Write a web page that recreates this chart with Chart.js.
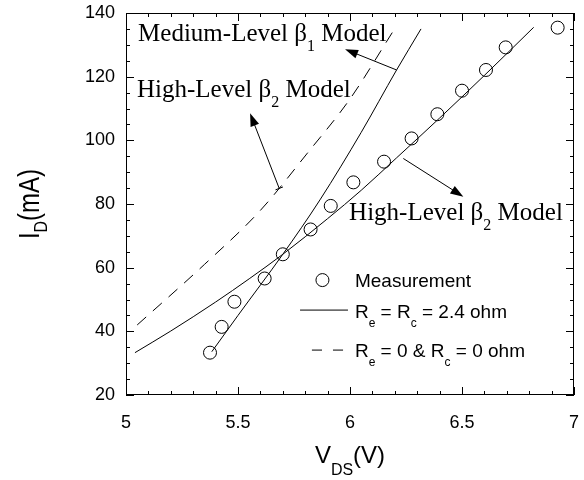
<!DOCTYPE html>
<html><head><meta charset="utf-8">
<style>html,body{margin:0;padding:0;background:#fff}#wrap{width:584px;height:480px;position:relative}</style>
<script src="https://cdn.jsdelivr.net/npm/chart.js@4.4.1/dist/chart.umd.min.js"></script>
</head><body><div id="wrap"><canvas id="c" width="584" height="480"></canvas></div>
<script>
// ---- data ----
const xTicks = [5, 5.5, 6, 6.5, 7];
const xTickLabels = ['5', '5.5', '6', '6.5', '7'];
const yTicks = [20, 40, 60, 80, 100, 120, 140];
const yTickLabels = ['20', '40', '60', '80', '100', '120', '140'];
const measVds = [5.375, 5.427, 5.484, 5.619, 5.70, 5.824, 5.914, 6.015, 6.152, 6.275, 6.39, 6.50, 6.607, 6.695, 6.927];
const measId  = [33.3, 41.4, 49.3, 56.6, 64.2, 72.0, 79.4, 86.8, 93.3, 100.6, 108.2, 115.6, 122.1, 129.2, 135.4];
const medVds  = [5.383, 5.5, 5.7, 5.866, 6.05, 6.208, 6.317];
const medId   = [33.6, 45.0, 64.2, 81.3, 102.5, 122.1, 135.0];
const highVds = [5.04, 5.2, 5.4, 5.55, 5.7, 5.9, 6.05, 6.208, 6.4, 6.6, 6.82];
const highId  = [33.3, 40.1, 49.2, 56.5, 64.2, 75.4, 84.3, 94.5, 107.0, 120.4, 135.5];
const zeroVds = [5.05, 5.35, 5.6, 5.81, 6.0, 6.19];
const zeroId  = [42.0, 61.0, 78.0, 96.0, 113.0, 134.0];

const SANS = '"Liberation Sans", Arial, sans-serif';
const SERIF = '"Liberation Serif", "Times New Roman", serif';

function pts(xs, ys){ return xs.map((x,i)=>({x:x, y:ys[i]})); }

function runs(ctx, parts, x, y, size, family, subSize, subDrop, draw){
  let cx = x;
  for (const p of parts){
    ctx.font = (p.sub ? subSize : size) + 'px ' + family;
    if (draw) ctx.fillText(p.t, cx, y + (p.sub ? subDrop : 0));
    cx += ctx.measureText(p.t).width;
  }
  return cx - x;
}

function arrow(ctx, x1, y1, x2, y2){
  const a = Math.atan2(y2-y1, x2-x1), L = 13, W = 4.5;
  ctx.beginPath(); ctx.moveTo(x1,y1); ctx.lineTo(x2 - L*0.8*Math.cos(a), y2 - L*0.8*Math.sin(a)); ctx.stroke();
  ctx.beginPath(); ctx.moveTo(x2,y2);
  ctx.lineTo(x2-L*Math.cos(a)+W*Math.sin(a), y2-L*Math.sin(a)-W*Math.cos(a));
  ctx.lineTo(x2-L*Math.cos(a)-W*Math.sin(a), y2-L*Math.sin(a)+W*Math.cos(a));
  ctx.closePath(); ctx.fill();
}

const decor = {
  id: 'decor',
  afterDraw(chart){
    const ctx = chart.ctx, ca = chart.chartArea, xs = chart.scales.x, ys = chart.scales.y;
    const X = v => xs.getPixelForValue(v), Y = v => ys.getPixelForValue(v);
    ctx.save();
    ctx.strokeStyle = '#000'; ctx.fillStyle = '#000'; ctx.lineWidth = 1;
    ctx.strokeRect(ca.left+0.5, ca.top+0.5, ca.right-ca.left-1, ca.bottom-ca.top-1);
    ctx.beginPath();
    for (let i=0;i<=20;i++){
      const p = Math.round(X(5 + i*0.1)) + 0.5, L = (i%5===0) ? 8 : 4;
      ctx.moveTo(p, ca.bottom); ctx.lineTo(p, ca.bottom-L);
      ctx.moveTo(p, ca.top); ctx.lineTo(p, ca.top+L);
    }
    for (let i=0;i<=24;i++){
      const p = Math.round(Y(20 + i*5)) + 0.5, L = (i%4===0) ? 8 : 4;
      ctx.moveTo(ca.left, p); ctx.lineTo(ca.left+L, p);
      ctx.moveTo(ca.right, p); ctx.lineTo(ca.right-L, p);
    }
    ctx.stroke();

    ctx.textBaseline = 'alphabetic'; ctx.textAlign = 'left';
    runs(ctx, [{t:'Medium-Level β'},{t:'1',sub:true},{t:' Model'}], X(5.054), Y(131.2), 25, SERIF, 16, 10, true);
    runs(ctx, [{t:'High-Level β'},{t:'2',sub:true},{t:' Model'}], X(5.049), Y(113.6), 25, SERIF, 16, 10, true);
    runs(ctx, [{t:'High-Level β'},{t:'2',sub:true},{t:' Model'}], X(5.996), Y(75.0), 25, SERIF, 16, 10, true);

    arrow(ctx, X(6.208), Y(122.1), X(5.978), Y(128.6));
    arrow(ctx, X(5.684), Y(84.9), X(5.554), Y(108.5));
    { const bx = X(5.684), by = Y(84.9), ex = X(5.554), ey = Y(108.5);
      const a = Math.atan2(ey-by, ex-bx), h = 4;
      ctx.beginPath(); ctx.moveTo(bx - h*Math.sin(a), by + h*Math.cos(a)); ctx.lineTo(bx + h*Math.sin(a), by - h*Math.cos(a)); ctx.stroke(); }
    arrow(ctx, X(6.238), Y(94.3), X(6.506), Y(82.3));

    const lx = X(5.877), ly1 = Y(56.1);
    ctx.beginPath(); ctx.arc(lx, ly1, 6.5, 0, Math.PI*2); ctx.stroke();
    const tx = X(6.022);
    runs(ctx, [{t:'Measurement'}], tx, ly1 + 7, 19, SANS, 12, 9, true);
    const ly2 = ly1 + 30;
    ctx.beginPath(); ctx.moveTo(X(5.777), ly2); ctx.lineTo(X(5.991), ly2); ctx.stroke();
    runs(ctx, [{t:'R'},{t:'e',sub:true},{t:' = R'},{t:'c',sub:true},{t:' = 2.4 ohm'}], tx, ly2 + 8, 19, SANS, 12, 9, true);
    const ly3 = ly1 + 70;
    ctx.beginPath();
    ctx.moveTo(X(5.830), ly3); ctx.lineTo(X(5.875), ly3);
    ctx.moveTo(X(5.924), ly3); ctx.lineTo(X(5.969), ly3);
    ctx.stroke();
    runs(ctx, [{t:'R'},{t:'e',sub:true},{t:' = 0 & R'},{t:'c',sub:true},{t:' = 0 ohm'}], tx, ly3 + 7, 19, SANS, 12, 9, true);

    const xParts = [{t:'V'},{t:'DS',sub:true},{t:'(V)'}];
    const xw = runs(ctx, xParts, 0, 0, 24, SANS, 16, 12, false);
    runs(ctx, xParts, (ca.left+ca.right)/2 - xw/2, 463, 24, SANS, 16, 12, true);

    const yParts = [{t:'I'},{t:'D',sub:true},{t:'(mA)'}];
    const yw = runs(ctx, yParts, 0, 0, 24, SANS, 16, 9, false);
    ctx.save();
    ctx.translate(39, (ca.top+ca.bottom)/2);
    ctx.rotate(-Math.PI/2);
    ctx.scale(1, 1.2);
    runs(ctx, yParts, -yw/2, 0, 24, SANS, 16, 7, true);
    ctx.restore();

    ctx.restore();
  }
};

new Chart(document.getElementById('c'), {
  type: 'scatter',
  data: {
    datasets: [
      { label: 'Measurement', data: pts(measVds, measId), showLine: false,
        pointStyle: 'circle', pointRadius: 6.5, pointBorderWidth: 1,
        pointBorderColor: '#000', pointBackgroundColor: 'rgba(0,0,0,0)', borderColor: '#000' },
      { label: 'Medium-Level β1 Model', data: pts(medVds, medId), showLine: true,
        borderColor: '#000', borderWidth: 1, pointRadius: 0, cubicInterpolationMode: 'monotone' },
      { label: 'High-Level β2 Model (Re = Rc = 2.4 ohm)', data: pts(highVds, highId), showLine: true,
        borderColor: '#000', borderWidth: 1, pointRadius: 0, cubicInterpolationMode: 'monotone' },
      { label: 'High-Level β2 Model (Re = 0 & Rc = 0 ohm)', data: pts(zeroVds, zeroId), showLine: true,
        borderColor: '#000', borderWidth: 1, borderDash: [12, 9], pointRadius: 0, cubicInterpolationMode: 'monotone' }
    ]
  },
  options: {
    responsive: false, animation: false, devicePixelRatio: 1,
    events: [],
    layout: { padding: { top: 13, right: 10, left: 0, bottom: 0 } },
    plugins: { legend: { display: false }, tooltip: { enabled: false }, title: { display: false } },
    scales: {
      x: {
        type: 'linear', position: 'bottom', min: 5, max: 7,
        afterBuildTicks: s => { s.ticks = xTicks.map(v => ({ value: v })); },
        afterFit: s => { s.height = 85; s.paddingLeft = 0; s.paddingRight = 0; },
        grid: { display: false, drawTicks: false },
        border: { display: false },
        ticks: { color: '#000', font: { family: SANS, size: 18 }, padding: 17, maxRotation: 0,
                 callback: (v) => xTickLabels[xTicks.indexOf(v)] }
      },
      y: {
        type: 'linear', position: 'left', min: 20, max: 140,
        afterBuildTicks: s => { s.ticks = yTicks.map(v => ({ value: v })); },
        afterFit: s => { s.width = 126; s.paddingTop = 0; s.paddingBottom = 0; },
        grid: { display: false, drawTicks: false },
        border: { display: false },
        ticks: { color: '#000', font: { family: SANS, size: 18 }, padding: 11,
                 callback: (v) => yTickLabels[yTicks.indexOf(v)] }
      }
    }
  },
  plugins: [decor]
});
</script>
</body></html>
